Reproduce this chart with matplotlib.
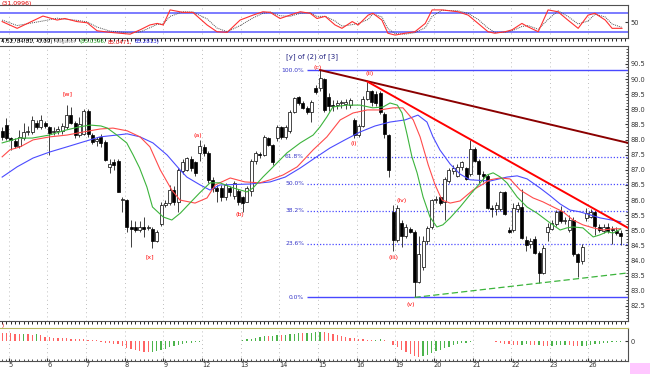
import matplotlib.pyplot as plt
from matplotlib.patches import Rectangle
import numpy as np

# hourly candles
opn = [88.30, 88.48, 88.05, 87.95, 87.80, 88.05, 88.25, 88.25, 88.55, 88.42,
       88.55, 88.40, 88.25, 88.30, 88.28, 88.40, 88.80, 88.55, 88.15, 88.20,
       88.95, 88.15, 87.95, 88.10, 87.92, 87.10, 87.25, 87.30, 86.00, 86.00,
       85.12, 85.12, 85.02, 85.10, 85.08, 85.05, 84.65, 85.20, 85.85, 85.90,
       86.33, 85.95, 86.95, 87.00, 87.35, 87.25, 87.55, 87.75, 87.55, 86.67,
       86.40, 86.40, 86.10, 86.40, 86.15, 86.30, 86.10, 85.95, 86.30, 87.30,
       87.50, 87.50, 88.05, 87.82, 88.05, 88.40, 88.08, 88.28, 88.92, 89.40,
       89.20, 89.05, 88.92, 89.72, 89.70, 90.02, 89.40, 89.15, 89.15, 89.20,
       89.18, 89.15, 88.65, 88.15, 88.45, 89.35, 89.60, 89.50, 89.55, 88.85,
       88.15, 85.60, 84.68, 85.25, 84.80, 85.05, 84.95, 83.30, 83.80, 84.65,
       85.10, 86.00, 86.10, 85.95, 86.62, 86.95, 86.80, 87.10, 87.05, 86.85,
       87.70, 87.30, 86.85, 86.80, 85.75, 85.72, 85.70, 86.25, 85.00, 85.00,
       85.70, 85.78, 84.68, 84.55, 84.70, 84.25, 83.60, 84.95, 85.05, 85.20,
       85.65, 85.30, 85.02, 85.35, 84.20, 83.98, 85.40, 85.45, 85.60, 85.10,
       84.98, 85.12, 85.05, 84.98, 84.90]
high = [88.40, 88.72, 88.10, 88.05, 88.32, 88.55, 88.45, 88.78, 88.65, 88.80,
        88.62, 88.45, 88.40, 88.45, 88.55, 89.15, 89.08, 88.62, 88.75, 89.00,
        89.00, 88.22, 88.10, 88.18, 87.98, 87.35, 87.35, 87.35, 86.10, 86.02,
        85.35, 85.30, 85.30, 85.45, 85.18, 85.10, 85.02, 85.92, 86.00, 86.50,
        86.45, 87.05, 87.35, 87.42, 87.45, 87.30, 88.00, 87.85, 87.62, 86.75,
        86.50, 86.50, 86.58, 86.45, 86.62, 86.35, 86.15, 86.45, 87.35, 87.62,
        87.58, 88.15, 88.10, 87.85, 88.48, 88.45, 88.48, 88.98, 89.42, 89.45,
        89.28, 89.10, 89.30, 89.80, 90.30, 90.05, 89.55, 89.30, 89.30, 89.32,
        89.35, 89.38, 88.70, 88.50, 89.45, 89.92, 89.65, 89.60, 89.60, 88.90,
        88.20, 85.83, 85.84, 85.35, 85.20, 85.10, 85.00, 84.80, 84.80, 85.15,
        86.05, 86.15, 86.15, 86.75, 87.05, 87.15, 87.20, 87.30, 87.10, 88.00,
        87.75, 87.35, 86.95, 86.85, 85.85, 85.95, 86.30, 86.30, 85.10, 85.90,
        85.95, 86.35, 84.80, 84.75, 84.80, 84.30, 84.50, 85.25, 85.35, 85.68,
        85.80, 85.45, 85.50, 85.45, 84.25, 84.55, 85.75, 85.70, 85.65, 85.20,
        85.22, 85.25, 85.15, 85.10, 85.00]
low = [88.00, 87.99, 87.66, 87.72, 87.72, 87.98, 88.15, 88.20, 88.35, 88.35,
       88.38, 87.50, 88.15, 88.20, 88.20, 88.35, 88.50, 88.05, 88.08, 88.15,
       88.10, 87.85, 87.80, 87.75, 87.28, 86.90, 86.98, 86.25, 85.62, 84.95,
       84.45, 84.95, 84.95, 84.78, 85.00, 84.42, 84.60, 85.15, 85.78, 85.85,
       85.85, 85.62, 86.85, 86.95, 86.95, 86.80, 87.30, 87.45, 86.55, 86.25,
       85.95, 85.98, 86.00, 86.15, 86.05, 85.85, 85.60, 85.92, 86.15, 87.20,
       87.40, 87.45, 87.78, 87.17, 87.95, 88.02, 88.02, 88.22, 88.88, 89.15,
       89.00, 88.85, 88.58, 89.50, 89.60, 88.90, 88.95, 88.95, 89.00, 89.05,
       89.00, 89.05, 88.05, 88.08, 88.40, 89.30, 89.10, 89.10, 88.85, 88.05,
       86.75, 84.30, 84.60, 84.45, 84.75, 84.90, 82.78, 83.25, 83.70, 84.55,
       85.05, 85.90, 85.85, 85.35, 86.55, 86.85, 86.75, 87.00, 86.65, 86.80,
       87.25, 86.55, 86.60, 85.70, 85.45, 85.50, 85.65, 85.50, 84.90, 84.95,
       85.60, 84.70, 84.30, 84.40, 84.20, 83.25, 83.55, 84.65, 85.00, 85.15,
       85.25, 85.20, 84.95, 84.15, 83.45, 83.90, 85.30, 85.40, 84.85, 84.95,
       84.90, 84.90, 84.55, 84.85, 84.52]
close = [88.10, 88.05, 87.98, 87.80, 88.10, 88.25, 88.30, 88.65, 88.42, 88.65,
         88.45, 88.22, 88.30, 88.35, 88.45, 88.80, 88.55, 88.15, 88.50, 88.95,
         88.20, 87.92, 88.02, 87.90, 87.33, 87.20, 87.15, 86.27, 86.05, 85.10,
         85.05, 85.02, 85.12, 85.05, 85.12, 84.65, 84.95, 85.85, 85.90, 86.33,
         85.95, 87.00, 87.25, 87.38, 87.05, 86.90, 87.80, 87.55, 86.67, 86.40,
         86.30, 86.10, 86.50, 86.28, 86.55, 85.95, 85.90, 86.40, 87.30, 87.55,
         87.48, 88.10, 87.82, 87.25, 88.40, 88.08, 88.42, 88.92, 89.38, 89.20,
         89.05, 88.92, 89.25, 89.58, 90.05, 88.98, 89.10, 89.12, 89.20, 89.22,
         89.25, 89.30, 88.15, 88.45, 89.35, 89.62, 89.25, 89.22, 88.90, 88.20,
         87.00, 84.68, 85.75, 84.80, 85.10, 84.95, 83.28, 84.20, 84.65, 85.08,
         86.00, 86.05, 85.90, 86.70, 87.00, 87.05, 87.08, 87.25, 86.70, 87.70,
         87.30, 86.85, 86.78, 85.75, 85.70, 85.85, 86.25, 85.55, 84.95, 85.75,
         85.85, 84.75, 84.50, 84.65, 84.25, 83.60, 84.40, 85.10, 85.25, 85.60,
         85.30, 85.35, 85.35, 84.20, 83.95, 84.45, 85.58, 85.62, 85.15, 85.02,
         85.10, 84.98, 85.00, 84.92, 84.81]

# alligator lines (bar position, price)
lips_x = [0, 4, 7, 11, 15, 18, 20.5, 23, 24.5, 26.7, 29, 30.5, 32, 33.7, 35, 37.5, 39.5, 41.5, 43.7, 46,
          48.4, 50.7, 53.8, 57, 58.4, 60.7, 62.4, 66.3, 69.4, 72.4, 74, 75.6, 77, 80.3, 83.3, 86.3, 88.7,
          90.3, 92, 93.1, 94.3, 95.4, 96.6, 98, 99.6, 101.2, 102.6, 104.3, 106.6, 108.9, 111.3, 112.9,
          114.3, 116, 117.5, 119.9, 122.2, 124.5, 127.6, 129.9, 131.5, 132.9, 135.2, 137.6, 139.2, 140.8,
          142.2, 144]
lips = [87.89, 88.05, 88.05, 88.15, 88.32, 88.42, 88.48, 88.45, 88.38, 88.15, 87.89, 87.49, 87.06, 86.43,
        85.77, 85.44, 85.34, 85.57, 85.90, 86.24, 86.57, 86.57, 86.40, 86.27, 86.40, 86.76, 87.00, 87.56,
        87.89, 88.15, 88.42, 88.75, 89.08, 89.14, 89.14, 89.05, 89.08, 89.21, 89.14, 88.88, 88.15, 87.43,
        86.90, 86.10, 85.44, 85.11, 85.18, 85.41, 85.77, 86.17, 86.57, 86.83, 86.90, 86.76, 86.57, 86.10,
        85.77, 85.57, 85.24, 85.01, 85.08, 85.11, 85.08, 84.78, 84.85, 84.95, 84.91, 85.04]
teeth_x = [0, 1.8, 4.2, 7.2, 11.1, 15.1, 18.8, 22.8, 25.8, 29.1, 32.1, 34.4, 36.8, 39.5, 41.4, 44.9, 47.7,
           49.6, 53.1, 56.5, 60, 62.4, 65.4, 68.7, 72.4, 75.6, 78.7, 81.7, 85, 88, 91, 93.3, 95.7, 97.3,
           99.2, 100.8, 102.4, 104.3, 106.6, 109.6, 113.6, 115.9, 118.2, 120.6, 123.6, 125.9, 128.3,
           130.6, 132.9, 135.2, 137.6, 139.9, 142.2, 144]
teeth = [87.43, 87.66, 87.76, 87.99, 88.09, 88.15, 88.25, 88.35, 88.38, 88.29, 88.09, 87.76, 87.00, 86.33,
         86.00, 85.90, 86.07, 86.50, 86.73, 86.60, 86.57, 86.67, 86.83, 87.10, 87.66, 88.09, 88.65, 88.88,
         88.98, 88.98, 89.05, 89.05, 88.65, 88.09, 87.16, 86.50, 86.00, 85.90, 85.97, 86.33, 86.67, 86.73,
         86.70, 86.33, 86.07, 85.94, 85.77, 85.61, 85.34, 85.18, 85.08, 85.01, 85.05, 85.05]
jaw_x = [0, 3.5, 7.2, 11.1, 15.1, 18.8, 22.8, 26.7, 29.1, 32.1, 35.1, 38.4, 41.4, 43, 46.1, 48.4, 50.7,
         57.7, 62.4, 65.9, 69.4, 72.8, 76.3, 79.8, 83.3, 86.8, 90.3, 93.8, 96.8, 98.9, 100.3, 101.9, 104.3,
         106.6, 108.9, 113.6, 117.5, 119.9, 122.2, 125.2, 127.6, 129.9, 132.2, 134.5, 136.9, 139.2, 141.5, 144]
jaw = [86.76, 87.10, 87.39, 87.59, 87.76, 87.92, 88.09, 88.15, 88.19, 88.09, 87.89, 87.49, 87.00, 86.76,
       86.50, 86.33, 86.50, 86.53, 86.60, 86.76, 87.06, 87.39, 87.72, 87.99, 88.25, 88.45, 88.58, 88.65,
       88.81, 88.58, 88.09, 87.66, 87.19, 86.86, 86.67, 86.63, 86.76, 86.80, 86.70, 86.40, 86.14, 85.87,
       85.67, 85.61, 85.51, 85.41, 85.35, 85.28]

# stochastic panel
st_x = [0, 3.5, 9.5, 12.8, 14.6, 17.4, 19.8, 22.1, 25.1, 29.8, 32.1, 34.4, 36.1, 37.5, 39.1, 42.1, 44.4,
        47.7, 50.0, 52.4, 55.4, 58.4, 60.7, 62.4, 64.7, 67.0, 69.4, 71.7, 73.3, 75.2, 77.5, 79.1, 81.5,
        82.9, 85.2, 86.3, 88.4, 89.8, 91.5, 93.8, 96.1, 98.5, 100.1, 102.4, 106.1, 108.5, 110.8, 113.1,
        114.7, 117.1, 118.7, 121.0, 122.4, 124.8, 127.1, 129.4, 131.7, 134.1, 136.4, 138.0, 140.4, 142.0, 144.3]
st_k = [53, 31, 71, 58, 63, 53, 49, 23, 18, 12, 26, 42, 47, 42, 91, 83, 83, 42, 20, 18,
        58, 74, 85, 83, 63, 74, 85, 80, 63, 70, 42, 31, 53, 42, 74, 80, 58, 15, 9, 15,
        20, 47, 91, 91, 85, 74, 47, 20, 15, 20, 26, 47, 36, 20, 91, 85, 58, 31, 74, 80,
        58, 31, 31]
st_d = [58, 40, 55, 64, 61, 57, 52, 35, 22, 16, 19, 33, 44, 45, 70, 85, 84, 62, 32, 20,
        40, 65, 80, 84, 72, 70, 80, 82, 70, 70, 55, 38, 43, 47, 60, 78, 68, 30, 14, 12,
        17, 33, 70, 90, 88, 80, 60, 32, 18, 18, 23, 37, 40, 28, 60, 88, 70, 45, 55, 77,
        68, 45, 34]

# awesome oscillator bars
ao = [0.85, 0.80, 0.78, 0.75, 0.70, 0.72, 0.70, 0.65, 0.68, 0.62,
      0.45, 0.40, 0.35, 0.32, 0.30, 0.28, 0.25, 0.22, 0.20, 0.18, 0.15, 0.12, 0.10,
      -0.05, -0.15, -0.20, -0.25,
      -0.30, -0.50, -0.65, -0.80, -0.90, -1.00, -1.05, -1.10,
      -1.05, -0.95, -0.85, -0.75, -0.62, -0.50, -0.40, -0.30, -0.22, -0.15,
      -0.10, -0.06, -0.04, 0.02, 0.03, 0.02, -0.02, -0.04, 0.02, 0.03, 0.05,
      0.10, 0.18, 0.25, 0.35, 0.42, 0.50, 0.48, 0.55, 0.60, 0.58, 0.65, 0.70, 0.75, 0.80, 0.78, 0.82, 0.85, 0.88,
      0.90, 0.88, 0.80, 0.70, 0.60, 0.50,
      0.40, 0.32, 0.28, 0.22, 0.18, 0.15, 0.12, 0.14, 0.16, 0.10, 0.00,
      -0.35, -0.60, -0.85, -1.05, -1.25, -1.45, -1.60,
      -1.50, -1.35, -1.20, -1.00, -0.85, -0.70, -0.55, -0.42, -0.30, -0.22, -0.15,
      -0.08, -0.04, -0.02, 0.02, 0.03, -0.02,
      -0.10, -0.18, -0.25, -0.30, -0.35, -0.38,
      -0.35, -0.32, -0.38, -0.42, -0.40, -0.45, -0.50, -0.48, -0.44, -0.40, -0.38,
      -0.42, -0.46, -0.50, -0.48, -0.45, -0.40,
      -0.32, -0.26, -0.20, -0.15, -0.12, -0.10, -0.08]

day_labels = ["5", "6", "7", "8", "9", "12", "13", "14", "15", "16", "19", "20", "21", "22", "23", "26"]

# wave high / low used for fibonacci
fib_high = 90.30
fib_low = 82.78
fib_ratios = [1.0, 0.618, 0.5, 0.382, 0.236, 0.0]

# trend lines: start bar, start price, price at right edge
tl_start = [74, 85, 96]
tl_p0 = [90.30, 89.92, 82.78]
tl_p1 = [87.89, 85.08, 83.59]

wave_text = ["[w]", "[x]", "(a)", "(b)", "(c)", "(i)", "(ii)", "(iii)", "(iv)", "(v)"]
wave_bar = [15.3, 34.4, 45.6, 55.4, 73.5, 81.9, 85.6, 91.2, 92.9, 95.2]
wave_price = [89.51, 84.12, 88.15, 85.51, 90.37, 87.86, 90.17, 84.09, 85.97, 82.53]

info_parts = ["4.52, 84.81, -0.09)", "Alligator", "(85.0396,", "85.0471,", "85.2813)"]
info_cols = ['black', '#909090', '#20a020', '#e00000', '#2020e0']

W, H = 650.0, 374.0
XR = 145.7


def box(top, bottom):
    return [0, 1 - bottom / H, 628 / W, (bottom - top) / H]


fig = plt.figure(figsize=(6.5, 3.74), dpi=100)
ax_st = fig.add_axes(box(5, 38))
ax = fig.add_axes(box(46, 321), sharex=ax_st)
ax_ao = fig.add_axes(box(328, 361), sharex=ax_st)

x = np.arange(len(close))
bounds = 1.5 + 9 * np.arange(len(day_labels))

for a in (ax_st, ax, ax_ao):
    a.set_xlim(-0.5, XR)
    for b in bounds:
        a.axvline(b, color='#a8a8a8', lw=0.6, ls=(0, (1, 4)), zorder=0)
    a.spines['left'].set_visible(False)
    for s in ('top', 'bottom', 'right'):
        a.spines[s].set_color('#505050')
        a.spines[s].set_linewidth(0.8)
    a.yaxis.tick_right()
    a.tick_params(axis='y', labelsize=4.8, length=2, pad=2, colors='#333333', direction='in')
    a.tick_params(axis='x', bottom=False, labelbottom=False)

# stochastic
ax_st.set_ylim(-0.5, 107)
ax_st.axhline(80, color='#7b7bff', lw=1.4)
ax_st.axhline(20, color='#7b7bff', lw=1.4)
ax_st.plot(st_x, st_d, color='#505050', lw=0.7, ls=(0, (1, 1)))
ax_st.plot(st_x, st_k, color='#ff3030', lw=0.8)
ax_st.set_yticks([50])

# main price panel
ax.set_ylim(82.004, 91.095)
ax.set_yticks(np.arange(82.5, 90.6, 0.5))
ax.yaxis.set_major_formatter('{x:.1f}')
ax.set_yticks(np.arange(82.0, 91.1, 0.1), minor=True)
ax.tick_params(axis='y', which='minor', length=1.2, direction='in', colors='#333333')

o = np.array(opn)
c = np.array(close)
up = c >= o
body_lo = np.minimum(o, c)
body_h = np.maximum(np.abs(c - o), 0.03)
ax.vlines(x, low, high, color='#202020', lw=0.6, zorder=3)
ax.bar(x[up], body_h[up], 0.7, bottom=body_lo[up], facecolor='white', edgecolor='black', lw=0.5, zorder=4)
ax.bar(x[~up], body_h[~up], 0.7, bottom=body_lo[~up], facecolor='black', edgecolor='black', lw=0.5, zorder=4)

ax.plot(jaw_x, jaw, color='#4b4bff', lw=0.8, zorder=5)
ax.plot(teeth_x, teeth, color='#ff4b4b', lw=0.8, zorder=5)
ax.plot(lips_x, lips, color='#3cb43c', lw=0.8, zorder=5)

for r in fib_ratios:
    lvl = fib_low + r * (fib_high - fib_low)
    if r in (0.0, 1.0):
        ax.hlines(lvl, 71, XR, color='#4848ff', lw=1.0, zorder=2)
    else:
        ax.hlines(lvl, 71, XR, color='#4848ff', lw=0.9, ls=(0, (1, 1.5)), zorder=2)
    ax.text(70.3, lvl, f"{r * 100:.1f}%", fontsize=4.3, color='#3535c8', ha='right', va='center')

tl_col = ['#8b0000', '#ff0000', '#3cb43c']
for k in range(3):
    if k == 2:
        ax.plot([tl_start[k], XR], [tl_p0[k], tl_p1[k]], color=tl_col[k], lw=0.9, ls=(0, (5, 2.5)), zorder=6)
    else:
        ax.plot([tl_start[k], XR], [tl_p0[k], tl_p1[k]], color=tl_col[k], lw=1.4, zorder=6)

for t, bx, by in zip(wave_text, wave_bar, wave_price):
    ax.text(bx, by, t, fontsize=4.5, color='#ff0000', ha='center', va='center', zorder=7)
ax.text(72.2, 90.73, "[y] of (2) of [3]", fontsize=5, color='#202080', ha='center', va='center')

# awesome oscillator
ax_ao.set_ylim(-2.0, 1.3)
ao_col = ['#ff6464'] + ['#4cb44c' if ao[i] > ao[i - 1] else '#ff6464' for i in range(1, len(ao))]
ax_ao.bar(x, ao, 0.3, color=ao_col)
ax_ao.set_yticks([0])
ax_ao.spines['top'].set_color('#b8b860')
ax_ao.set_xticks(bounds)
ax_ao.set_xticklabels(day_labels)
ax_ao.set_xticks(np.arange(0, 146, 1), minor=True)
ax_ao.tick_params(axis='x', which='both', bottom=True, labelbottom=True, direction='in',
                  labelsize=4.8, pad=1, length=2, colors='#333333')
ax_ao.tick_params(axis='x', which='minor', length=1.2)
for lb in ax_ao.get_xticklabels():
    lb.set_ha('left')

# header texts, placed one after another
fig.text(2 / W, 1 - 0.5 / H, "(31.0996)", color='#e00000', fontsize=4.5, va='top')
renderer = fig.canvas.get_renderer()
xpos = 1.0
for s, col in zip(info_parts, info_cols):
    t = fig.text(xpos / W, 1 - 42 / H, s, color=col, fontsize=4.0, va='center')
    xpos = t.get_window_extent(renderer).x1 + 2
fig.text(2 / W, 1 - 325 / H, ")", color='#e00000', fontsize=4, va='center')
fig.patches.append(Rectangle((630 / W, 0), 20 / W, 11 / H, transform=fig.transFigure,
                             facecolor='#ffc8ff', edgecolor='none'))

fig.savefig('out.png', dpi=100)
